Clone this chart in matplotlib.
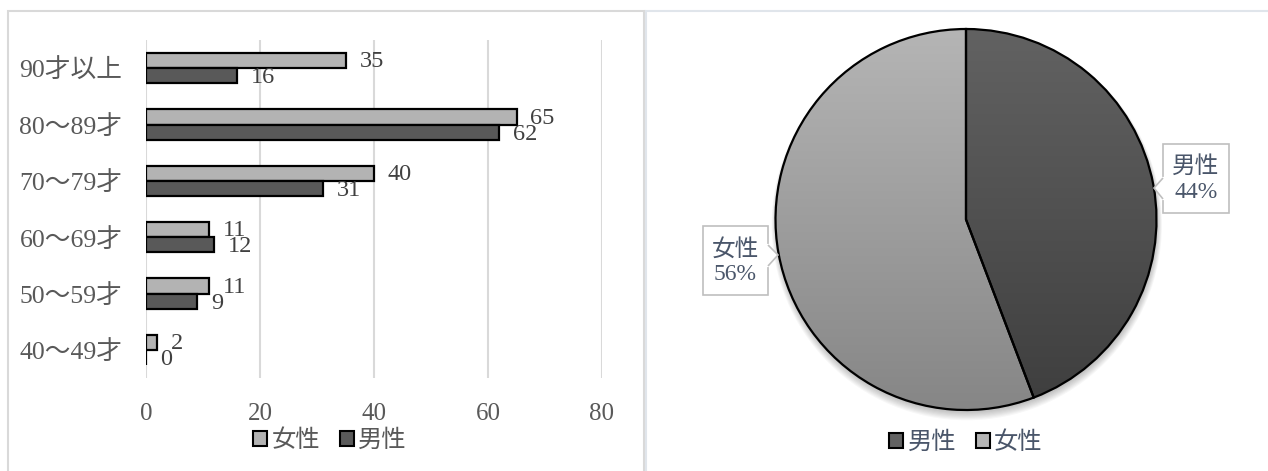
import numpy as np
import matplotlib
matplotlib.use("Agg")
import matplotlib.pyplot as plt
from matplotlib.patches import Patch, Rectangle, Circle, Polygon
from matplotlib.colors import LinearSegmentedColormap
from matplotlib.lines import Line2D

plt.rcParams['font.family'] = ['Liberation Serif', 'Noto Sans CJK JP']

# Age groups (bottom to top) and counts by sex
categories = ['40～49才', '50～59才', '60～69才', '70～79才', '80～89才', '90才以上']
female = [2, 11, 11, 40, 65, 35]
male = [0, 9, 12, 31, 62, 16]
series_names = ['女性', '男性']
x_ticks = [0, 20, 40, 60, 80]

W, H = 1268, 471
fig = plt.figure(figsize=(W / 100, H / 100), dpi=100)


def fx(x):
    return x / W


def fy(y):
    return 1 - y / H


def box(x0, y0, x1, y1):
    return [fx(x0), fy(y1), fx(x1) - fx(x0), fy(y0) - fy(y1)]


# Panel frames
fig.patches.append(Rectangle((fx(8), fy(480)), fx(644) - fx(8), fy(11) - fy(480),
                             transform=fig.transFigure, fill=False,
                             edgecolor='#d9d9d9', lw=1.5))
fig.patches.append(Rectangle((fx(646), fy(480)), fx(1290) - fx(646), fy(11) - fy(480),
                             transform=fig.transFigure, fill=False,
                             edgecolor='#e0e5eb', lw=1.5))

# ---------------- Bar chart ----------------
F_COL = '#b3b3b3'
M_COL = '#595959'
TXT = '#595959'

ax = fig.add_axes(box(146, 40, 602, 378))
y = np.arange(len(categories))
bh = 0.27
ax.barh(y + bh / 2, female, height=bh, color=F_COL, edgecolor='black', lw=1.6, zorder=3)
ax.barh(y - bh / 2, male, height=bh, color=M_COL, edgecolor='black', lw=1.6, zorder=3)

for yi, v in zip(y, female):
    ax.annotate(f'{v}', (v, yi + bh / 2), xytext=(10, -1), textcoords='offset points',
                ha='left', va='center', fontsize=17.5, color='#404040', zorder=4)
for yi, v in zip(y, male):
    ax.annotate(f'{v}', (v, yi - bh / 2), xytext=(10, -1.5), textcoords='offset points',
                ha='left', va='center', fontsize=17.5, color='#404040', zorder=4)

ax.set_xlim(0, 80)
ax.set_ylim(-0.5, 5.5)
ax.set_xticks(x_ticks)
ax.set_xticklabels([str(t) for t in x_ticks])
ax.set_yticks(y)
ax.set_yticklabels(categories)
ax.tick_params(axis='x', length=0, pad=18, labelsize=18, labelcolor=TXT)
ax.tick_params(axis='y', length=0, pad=17, labelsize=18.5, labelcolor=TXT)
ax.grid(axis='x', color='#d9d9d9', lw=1.5, zorder=0)
for s in ax.spines.values():
    s.set_visible(False)

leg1 = fig.legend(
    handles=[Patch(facecolor=F_COL, edgecolor='black', lw=1.5, label=series_names[0]),
             Patch(facecolor=M_COL, edgecolor='black', lw=1.5, label=series_names[1])],
    loc='center', bbox_to_anchor=(fx(330), fy(440)), ncol=2, frameon=False,
    prop={'family': 'Noto Sans CJK JP', 'size': 17.5},
    handlelength=0.58, handleheight=0.58, handletextpad=0.18, columnspacing=0.8)
for t in leg1.get_texts():
    t.set_color(TXT)

# ---------------- Pie chart ----------------
male_total = sum(male)
female_total = sum(female)
pie_vals = [male_total, female_total]
pie_names = ['男性', '女性']
grads = [('#626262', '#3e3e3e'), ('#b5b5b5', '#868686')]
PIE_TXT = '#4a566a'

cx, cy, r = 966, 219.5, 190.5
pax = fig.add_axes(box(cx - r, cy - r, cx + r, cy + r))
pax.set_xlim(-1, 1)
pax.set_ylim(-1, 1)
pax.set_aspect('equal')
pax.axis('off')

# soft shadow under the disc
for i in range(8):
    pax.add_patch(Circle((0.004, -0.012 - i * 0.0025), 1 + i * 0.0035,
                         color='black', alpha=0.03, lw=0, zorder=0, clip_on=False))

wedges, _ = pax.pie(pie_vals, startangle=90, counterclock=False, radius=1,
                    wedgeprops=dict(facecolor='none', edgecolor='black', lw=1.6),
                    center=(0, 0), frame=False)
grad = np.linspace(0, 1, 256).reshape(-1, 1)
for w, (c0, c1) in zip(wedges, grads):
    w.set_zorder(3)
    w.set_clip_on(False)
    cmap = LinearSegmentedColormap.from_list('g', [c0, c1])
    im = pax.imshow(grad, cmap=cmap, extent=(-1, 1, -1, 1), origin='upper',
                    aspect='auto', zorder=1, interpolation='bilinear')
    im.set_clip_path(w)
pax.set_xlim(-1, 1)
pax.set_ylim(-1, 1)

pcts = [round(100 * v / sum(pie_vals)) for v in pie_vals]


def callout(text, x0, y0, x1, y1, notch, tip):
    fig.patches.append(Rectangle((fx(x0), fy(y1)), fx(x1) - fx(x0), fy(y0) - fy(y1),
                                 transform=fig.transFigure, facecolor='white',
                                 edgecolor='#bfbfbf', lw=1.2, zorder=5))
    (ax_, ay0), (bx_, by0) = notch
    fig.patches.append(Polygon([(fx(ax_), fy(ay0)), (fx(tip[0]), fy(tip[1])),
                                (fx(bx_), fy(by0))], closed=False,
                               transform=fig.transFigure, facecolor='white',
                               edgecolor='#bfbfbf', lw=1.2, zorder=6))
    fig.lines.append(Line2D([fx(ax_), fx(bx_)], [fy(ay0), fy(by0)],
                            transform=fig.transFigure, color='white', lw=1.6, zorder=6))
    fig.text(fx((x0 + x1) / 2), fy((y0 + y1) / 2 + 1), text, ha='center', va='center',
             fontsize=17, color=PIE_TXT, linespacing=1.2, zorder=7)


callout(f'{pie_names[0]}\n{pcts[0]}%', 1163, 144, 1229, 213,
        ((1163, 178), (1163, 199)), (1154, 188))
callout(f'{pie_names[1]}\n{pcts[1]}%', 703, 226, 768, 295,
        ((768, 245), (768, 266)), (778, 255))

leg2 = fig.legend(
    handles=[Patch(facecolor=grads[0][0], edgecolor='black', lw=1.5, label=pie_names[0]),
             Patch(facecolor=grads[1][0], edgecolor='black', lw=1.5, label=pie_names[1])],
    loc='center', bbox_to_anchor=(fx(966), fy(442)), ncol=2, frameon=False,
    prop={'family': 'Noto Sans CJK JP', 'size': 17.5},
    handlelength=0.58, handleheight=0.58, handletextpad=0.18, columnspacing=0.8)
for t in leg2.get_texts():
    t.set_color(PIE_TXT)

fig.savefig('out.png', dpi=100)
